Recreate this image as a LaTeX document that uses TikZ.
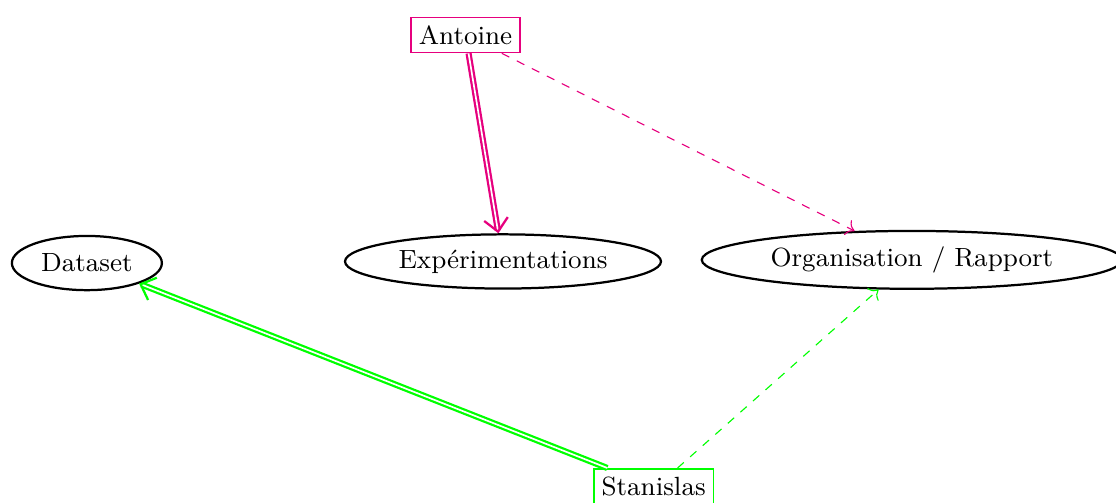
\documentclass[tikz,border=0pt]{standalone}
\usepackage{tikz}
\usetikzlibrary{arrows.meta, shapes.geometric, calc}
\definecolor{antoinecol}{RGB}{230,0,126}
\definecolor{stancol}{RGB}{0,255,0}
\tikzset{
    every node/.style={font=\fontsize{9.4}{11}\selectfont},
    task node/.style={ellipse,draw,thick,minimum height=6.8mm,inner sep=2.6pt},
    person node/.style={rectangle,draw,inner sep=2.8pt}
}

\begin{document}
\begin{tikzpicture}[
            > = {Straight Barb[length=1.6mm,width=3mm]}, % arrow head style
            semithick % line style
        ]
        \useasboundingbox (0,0) rectangle (14.0,-6.30);

        \node[person node, draw = antoinecol] (ant) at (5.84,-0.44) {Antoine};
        \node[person node, draw = stancol] (stan) at (8.20,-6.10) {Stanislas};

        \node[task node] (data) at (1.09,-3.30) {Dataset};
        \node[task node] (exp) at (6.31,-3.28) {Exp\'erimentations};
        \node[task node] (org) at (11.44,-3.26) {Organisation / Rapport};

        \coordinate (stanout) at ($(stan.north)+(0.30,0)$);

        % main tasks
        \draw[->, double, thick, draw = antoinecol] (ant) -- (exp);
        \draw[->, double, thick, draw = stancol] (stan) -- (data);

        % secondary tasks
        \draw[-{To[length=1mm]}, dashed, thin, antoinecol] (ant) -- (org);
        \draw[-{To[length=1mm]}, dashed, thin, stancol] (stanout) -- (org);
  \end{tikzpicture}
\end{document}
